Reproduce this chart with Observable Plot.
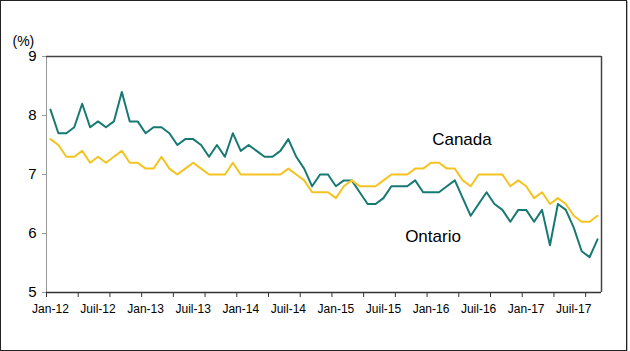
<!DOCTYPE html>
<html>
<head>
<meta charset="utf-8">
<script src="https://cdn.jsdelivr.net/npm/d3@7"></script>
<script src="https://cdn.jsdelivr.net/npm/@observablehq/plot@0.6"></script>
<style>
  html, body { margin: 0; padding: 0; background: #fff; }
  #wrap { position: relative; width: 630px; height: 351px; }
  #border { position: absolute; left: 0; top: 0; width: 625px; height: 349px; border: 1px solid #222; pointer-events: none; box-shadow: 1px 1px 0 #bbb; }
</style>
</head>
<body>
<div id="wrap"><div id="chart"></div><div id="border"></div></div>
<script>
// Monthly unemployment rate (%), Jan-12 to Oct-17
const ontario = [
  8.1, 7.7, 7.7, 7.8, 8.2, 7.8, 7.9, 7.8, 7.9, 8.4, 7.9, 7.9,
  7.7, 7.8, 7.8, 7.7, 7.5, 7.6, 7.6, 7.5, 7.3, 7.5, 7.3, 7.7,
  7.4, 7.5, 7.4, 7.3, 7.3, 7.4, 7.6, 7.3, 7.1, 6.8, 7.0, 7.0,
  6.8, 6.9, 6.9, 6.7, 6.5, 6.5, 6.6, 6.8, 6.8, 6.8, 6.9, 6.7,
  6.7, 6.7, 6.8, 6.9, 6.6, 6.3, 6.5, 6.7, 6.5, 6.4, 6.2, 6.4,
  6.4, 6.2, 6.4, 5.8, 6.5, 6.4, 6.1, 5.7, 5.6, 5.9
];
const canada = [
  7.6, 7.5, 7.3, 7.3, 7.4, 7.2, 7.3, 7.2, 7.3, 7.4, 7.2, 7.2,
  7.1, 7.1, 7.3, 7.1, 7.0, 7.1, 7.2, 7.1, 7.0, 7.0, 7.0, 7.2,
  7.0, 7.0, 7.0, 7.0, 7.0, 7.0, 7.1, 7.0, 6.9, 6.7, 6.7, 6.7,
  6.6, 6.8, 6.9, 6.8, 6.8, 6.8, 6.9, 7.0, 7.0, 7.0, 7.1, 7.1,
  7.2, 7.2, 7.1, 7.1, 6.9, 6.8, 7.0, 7.0, 7.0, 7.0, 6.8, 6.9,
  6.8, 6.6, 6.7, 6.5, 6.6, 6.5, 6.3, 6.2, 6.2, 6.3
];
const xTickLabels = ["Jan-12", "Juil-12", "Jan-13", "Juil-13", "Jan-14", "Juil-14",
                     "Jan-15", "Juil-15", "Jan-16", "Juil-16", "Jan-17", "Juil-17"];
const yTicks = [5, 6, 7, 8, 9];
const seriesNames = ["Ontario", "Canada"];
const seriesColors = ["#177a72", "#f5c320"];
const seriesLabels = [
  {name: "Canada", m: 52.4, v: 7.6},
  {name: "Ontario", m: 48.75, v: 5.95}
];

const nMonths = ontario.length;
const rows = [
  ...ontario.map((v, i) => ({m: i + 0.5, v, s: "Ontario"})),
  ...canada.map((v, i) => ({m: i + 0.5, v, s: "Canada"}))
];
const tickMarks = d3.range(0, nMonths, 4);
const labelPos = xTickLabels.map((_, k) => k * 6 + 0.5);

const chart = Plot.plot({
  width: 630,
  height: 351,
  marginLeft: 46,
  marginRight: 29,
  marginTop: 56,
  marginBottom: 59,
  style: {fontFamily: "'Liberation Sans', Arial, sans-serif", background: "transparent", color: "#000"},
  x: {domain: [0, nMonths]},
  y: {domain: [5, 9]},
  color: {domain: seriesNames, range: seriesColors},
  marks: [
    Plot.ruleX([0], {stroke: "#999", strokeWidth: 1}),
    Plot.ruleX([nMonths], {stroke: "#444", strokeWidth: 1.5}),
    Plot.ruleY([9], {stroke: "#444", strokeWidth: 1.5}),
    Plot.axisY({ticks: yTicks, tickSize: 4, tickPadding: 6, fontSize: 15, stroke: "#999", fill: "#000",
                tickFormat: (d) => String(d), label: null}),
    Plot.axisX({ticks: tickMarks, tickSize: 5, tickFormat: () => "", stroke: "#333", label: null}),
    Plot.axisX({ticks: labelPos, tickSize: 0, tickPadding: 12, fontSize: 12, fill: "#000",
                tickFormat: (d) => xTickLabels[Math.round((d - 0.5) / 6)], label: null}),
    Plot.line(rows, {x: "m", y: "v", z: "s", stroke: "s", strokeWidth: 2, curve: "linear"}),
    Plot.ruleY([5], {stroke: "#333", strokeWidth: 1.5}),
    Plot.text(seriesLabels, {x: "m", y: "v", text: "name", fontSize: 17, fill: "#000"}),
    Plot.text(["(%)"], {frameAnchor: "top-left", dx: -34, dy: -20, textAnchor: "start", fontSize: 14, fill: "#000"})
  ]
});
document.getElementById("chart").appendChild(chart);
</script>
</body>
</html>
